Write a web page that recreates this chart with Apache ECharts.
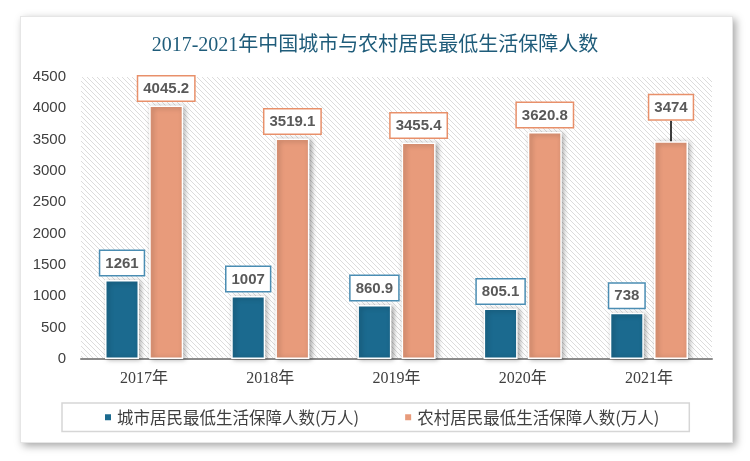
<!DOCTYPE html>
<html>
<head>
<meta charset="utf-8">
<script src="https://cdn.jsdelivr.net/npm/echarts@6/dist/echarts.min.js"></script>
<style>
html,body{margin:0;padding:0;background:#fff;}
#card{position:absolute;left:20px;top:16px;width:713px;height:427px;background:#fff;box-shadow:3px 3px 8px rgba(0,0,0,0.35);border:1px solid #e6e6e6;box-sizing:border-box;}
#chart{position:absolute;left:0;top:0;width:750px;height:461px;}
</style>
</head>
<body>
<div id="card"></div>
<div id="chart"></div>
<script>
const titleText = '2017-2021年中国城市与农村居民最低生活保障人数';
const categories = ['2017年', '2018年', '2019年', '2020年', '2021年'];
const seriesNames = ['城市居民最低生活保障人数(万人)', '农村居民最低生活保障人数(万人)'];
const cityValues = [1261, 1007, 860.9, 805.1, 738];
const ruralValues = [4045.2, 3519.1, 3455.4, 3620.8, 3474];

// hatch pattern
const pc = document.createElement('canvas');
pc.width = 5; pc.height = 5;
const g = pc.getContext('2d');
g.fillStyle = '#ffffff'; g.fillRect(0, 0, 5, 5);
g.strokeStyle = '#dcdcdc'; g.lineWidth = 1;
g.beginPath();
g.moveTo(-1, -1); g.lineTo(6, 6);
g.moveTo(-1, 4); g.lineTo(1, 6);
g.moveTo(4, -1); g.lineTo(6, 1);
g.stroke();

const chart = echarts.init(document.getElementById('chart'));
const labelBase = {
  show: true, position: 'top', distance: 5,
  color: '#595959', fontWeight: 'bold', fontSize: 15,
  fontFamily: 'Liberation Sans, Arial, sans-serif',
  backgroundColor: '#fff', borderWidth: 1.5, padding: [5, 5, 4, 5]
};
const ruralData = ruralValues.map((v, i) => i === 4 ? { value: v, labelLine: { show: true } } : { value: v });
chart.setOption({
  backgroundColor: 'transparent',
  title: {
    text: titleText, left: 'center', top: 31,
    textStyle: { color: '#1F5C7A', fontSize: 20, fontWeight: 'normal',
      fontFamily: 'Liberation Serif, Noto Sans CJK SC, serif' }
  },
  grid: {
    left: 81, right: 38, top: 77, bottom: 102, show: true,
    borderWidth: 0,
    backgroundColor: { image: pc, repeat: 'repeat' }
  },
  legend: {
    left: 62, top: 403, width: 631,
    padding: [6, 30, 6, 41],
    borderColor: '#d6d6d6', borderWidth: 1.5,
    itemWidth: 8, itemHeight: 8, itemGap: 44, icon: 'rect',
    textStyle: { color: '#404040', fontSize: 16.5, fontFamily: 'Noto Sans CJK SC, sans-serif' },
    data: seriesNames
  },
  xAxis: {
    type: 'category', data: categories,
    axisLine: { lineStyle: { color: '#8c8c8c', width: 2 } },
    axisTick: { show: false },
    axisLabel: { color: '#404040', fontSize: 16, margin: 12,
      fontFamily: 'Liberation Serif, Noto Sans CJK SC, serif' }
  },
  yAxis: {
    type: 'value', min: 0, max: 4500, interval: 500,
    axisLine: { show: false }, axisTick: { show: false },
    splitLine: { show: false },
    axisLabel: { color: '#404040', fontSize: 15, margin: 15,
      formatter: v => String(v),
      fontFamily: 'Liberation Sans, Arial, sans-serif' }
  },
  series: [
    {
      name: seriesNames[0], type: 'bar', data: cityValues,
      barWidth: 34, barGap: '30%',
      itemStyle: { color: '#1B6A8F', borderColor: '#fff', borderWidth: 1.5,
        shadowBlur: 5, shadowColor: 'rgba(0,0,0,0.35)', shadowOffsetX: 2, shadowOffsetY: 1 },
      label: Object.assign({}, labelBase, { borderColor: '#4A8DB3' })
    },
    {
      name: seriesNames[1], type: 'bar', data: ruralData,
      barWidth: 34,
      itemStyle: { color: '#E89B7B', borderColor: '#fff', borderWidth: 1.5,
        shadowBlur: 5, shadowColor: 'rgba(0,0,0,0.35)', shadowOffsetX: 2, shadowOffsetY: 1 },
      label: Object.assign({}, labelBase, { borderColor: '#E8906A' }),
      labelLine: { show: false, lineStyle: { color: '#000', width: 1.5 } },
      labelLayout: function (p) { return p.dataIndex === 4 ? { dy: -17 } : {}; }
    }
  ]
});
</script>
</body>
</html>
